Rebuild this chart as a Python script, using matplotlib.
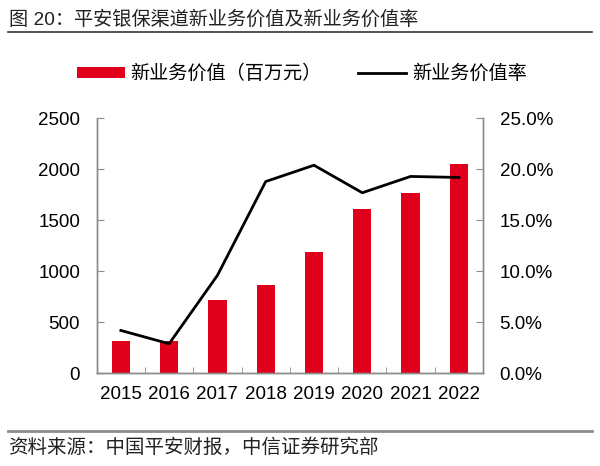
import matplotlib
matplotlib.use("Agg")
import matplotlib.pyplot as plt
from matplotlib.lines import Line2D
from matplotlib.patches import Patch
import numpy as np

plt.rcParams['font.family'] = ['Liberation Sans', 'Noto Sans CJK SC', 'DejaVu Sans']

years = ['2015', '2016', '2017', '2018', '2019', '2020', '2021', '2022']
nbv = [320, 312, 719, 866, 1193, 1608, 1771, 2049]
nbv_margin = [4.2, 2.9, 9.6, 18.8, 20.4, 17.7, 19.3, 19.2]
left_ticks = [0, 500, 1000, 1500, 2000, 2500]
right_ticks = [0, 5, 10, 15, 20, 25]

title = '图 20：平安银保渠道新业务价值及新业务价值率'
source = '资料来源：中国平安财报，中信证券研究部'
bar_label = '新业务价值（百万元）'
line_label = '新业务价值率'

RED = '#E0001B'
GREY = '#8C8C8C'

fig = plt.figure(figsize=(6.0, 4.66), dpi=100)
W, H = 600, 466
ax = fig.add_axes([96.7 / W, 1 - 373.3 / H, (483 - 96.7) / W, (373.3 - 118.3) / H])
ax2 = ax.twinx()

x = np.arange(len(years))
ax.bar(x, nbv, width=0.38, color=RED, zorder=2)
ax.set_xlim(-0.5, len(years) - 0.5)
ax.set_ylim(0, 2500)
ax.set_yticks(left_ticks)
ax.set_yticklabels([str(v) for v in left_ticks])
ax.set_xticks(x)
ax.set_xticklabels(years)
ax.set_xticks(np.arange(len(years) + 1) - 0.5, minor=True)
ax.tick_params(axis='x', which='major', length=0, pad=9, labelsize=13.5, colors='black')
ax.tick_params(axis='x', which='minor', direction='in', length=4, color=GREY)
ax.tick_params(axis='y', direction='in', length=5, color=GREY, pad=12, labelsize=13.5)

ax2.plot(x, nbv_margin, color='black', lw=2.0, zorder=3)
ax2.set_ylim(0, 25)
ax2.set_yticks(right_ticks)
ax2.set_yticklabels(['%.1f%%' % v for v in right_ticks])
ax2.tick_params(axis='y', direction='in', length=5, color=GREY, pad=12, labelsize=13.5)

for a in (ax, ax2):
    a.spines['top'].set_visible(False)
    for s in ('left', 'right', 'bottom'):
        a.spines[s].set_color(GREY)
        a.spines[s].set_linewidth(1.0)
ax.spines['bottom'].set_color('#6E6E6E')

# legend
handles = [Patch(facecolor=RED, edgecolor='none'), Line2D([], [], color='black', lw=2.0)]
fig.legend(handles, [bar_label, line_label], loc='center', ncol=2,
           bbox_to_anchor=(0.503, 1 - 74 / H), frameon=False, fontsize=13.8,
           handlelength=2.5, handleheight=0.5, handletextpad=0.3, columnspacing=1.9)

# title and header rule
fig.text(9 / W, 1 - 20 / H, title, fontsize=13.8, va='center', ha='left', color='#222222')
fig.add_artist(Line2D([8 / W, 592 / W], [1 - 32 / H, 1 - 32 / H], color='#333333', lw=1.2))

# footer rule and source
fig.add_artist(Line2D([8 / W, 592 / W], [1 - 431 / H, 1 - 431 / H], color=GREY, lw=2.0))
fig.text(8 / W, 1 - 448 / H, source, fontsize=14, va='center', ha='left', color='#222222')

fig.savefig('out.png', dpi=100, facecolor='white')
